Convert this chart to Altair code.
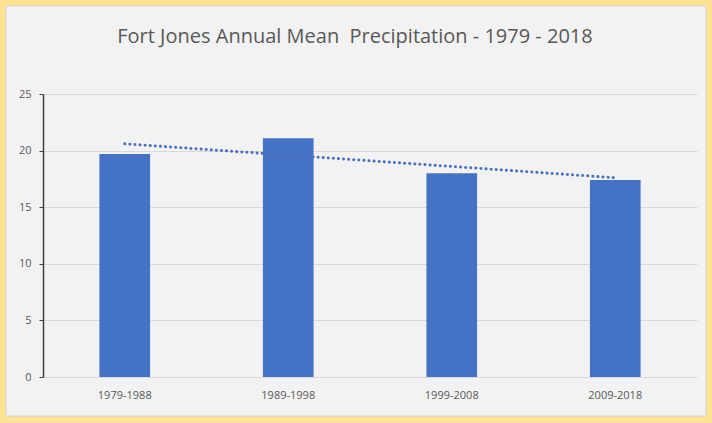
import altair as alt
import pandas as pd

title_text = "Fort Jones Annual Mean\u00a0 Precipitation - 1979 - 2018"
periods = ["1979-1988", "1989-1998", "1999-2008", "2009-2018"]
precip = [19.7, 21.1, 18.0, 17.4]
trend_periods = ["1979-1988", "2009-2018"]
trend_values = [20.6, 17.6]
y_ticks = [0, 5, 10, 15, 20, 25]

bars_df = pd.DataFrame({"period": periods, "value": precip})
trend_df = pd.DataFrame({"period": trend_periods, "value": trend_values})

W, H = 654, 283
FONT = "Open Sans"

xenc = alt.X("period:N", sort=periods, title=None,
             scale=alt.Scale(paddingInner=0.69, paddingOuter=0.345),
             axis=alt.Axis(labelAngle=0, domain=False, ticks=False, labelPadding=12,
                           labelFontSize=11, labelColor="#595959", labelFont=FONT))
yscale = alt.Scale(domain=[0, 25], nice=False)

bars = alt.Chart(bars_df).mark_bar(color="#4472c4").encode(
    x=xenc,
    y=alt.Y("value:Q", scale=yscale, title=None,
            axis=alt.Axis(values=y_ticks, domain=True, domainColor="#404040", domainWidth=1.5,
                          ticks=True, tickSize=4, tickColor="#404040",
                          grid=True, gridColor="#d9d9d9", gridWidth=1,
                          labelFontSize=11, labelColor="#595959", labelFont=FONT,
                          labelPadding=8)),
)

trend = alt.Chart(trend_df).mark_line(color="#4a70bf", strokeWidth=3,
                                      strokeDash=[0.1, 5], strokeCap="round").encode(
    x=alt.X("period:N", sort=periods),
    y=alt.Y("value:Q", scale=yscale),
)

title = alt.Chart(pd.DataFrame({"t": [title_text]})).mark_text(
    font=FONT, fontSize=20, color="#595959", align="center", baseline="middle"
).encode(text="t:N", x=alt.value(312), y=alt.value(-57))

frame = alt.Chart(pd.DataFrame({"a": [0]})).mark_rect(
    fill=None, stroke="#fde293", strokeWidth=6, filled=False
).encode(
    x=alt.value(-40), x2=alt.value(666), y=alt.value(-91), y2=alt.value(343)
)
inner = alt.Chart(pd.DataFrame({"a": [0]})).mark_rect(
    fill=None, stroke="#d4d4d4", strokeWidth=1, filled=False
).encode(
    x=alt.value(-37), x2=alt.value(663), y=alt.value(-88), y2=alt.value(322)
)
bottom = alt.Chart(pd.DataFrame({"a": [0]})).mark_rect(
    fill="#fde293"
).encode(
    x=alt.value(-43), x2=alt.value(669), y=alt.value(322), y2=alt.value(346)
)

chart = alt.layer(bars, trend, title, frame, bottom, inner).properties(
    width=W, height=H,
    autosize=alt.AutoSizeParams(type="none"),
    padding={"left": 43, "top": 94, "right": 15, "bottom": 46},
    background="#f2f2f2",
).configure_view(stroke=None)

chart.save("out.html", embed_options={"renderer": "svg", "actions": False})
